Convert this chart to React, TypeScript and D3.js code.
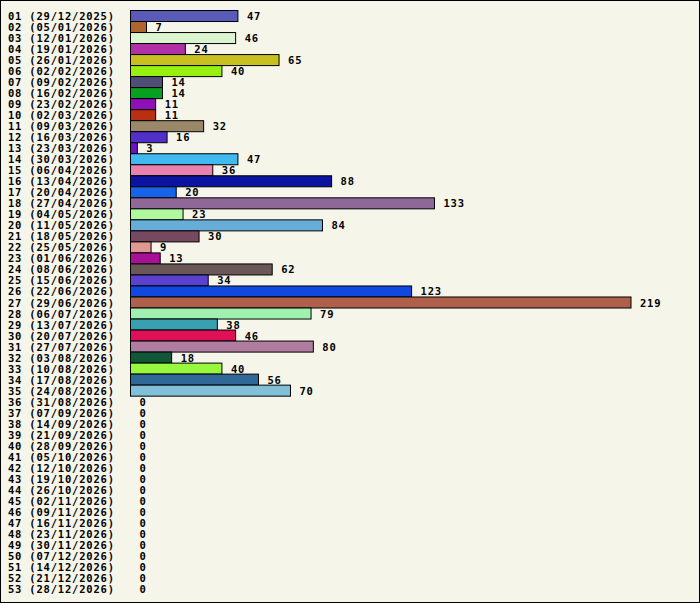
import React from 'react';
import * as d3 from 'd3';

const weeks = ["29/12/2025","05/01/2026","12/01/2026","19/01/2026","26/01/2026","02/02/2026","09/02/2026","16/02/2026","23/02/2026","02/03/2026","09/03/2026","16/03/2026","23/03/2026","30/03/2026","06/04/2026","13/04/2026","20/04/2026","27/04/2026","04/05/2026","11/05/2026","18/05/2026","25/05/2026","01/06/2026","08/06/2026","15/06/2026","22/06/2026","29/06/2026","06/07/2026","13/07/2026","20/07/2026","27/07/2026","03/08/2026","10/08/2026","17/08/2026","24/08/2026","31/08/2026","07/09/2026","14/09/2026","21/09/2026","28/09/2026","05/10/2026","12/10/2026","19/10/2026","26/10/2026","02/11/2026","09/11/2026","16/11/2026","23/11/2026","30/11/2026","07/12/2026","14/12/2026","21/12/2026","28/12/2026"];

const values = [47,7,46,24,65,40,14,14,11,11,32,16,3,47,36,88,20,133,23,84,30,9,13,62,34,123,219,79,38,46,80,18,40,56,70,0,0,0,0,0,0,0,0,0,0,0,0,0,0,0,0,0,0];

const colors = ["#5a5ab8","#b0642e","#dcf5d0","#b030a8","#c8c020","#98f010","#504e78","#08a020","#9010b8","#b83010","#9a8868","#5030c8","#7010c0","#40b8f0","#e880b0","#0a14a0","#1864e8","#906898","#b0f8a0","#68acd8","#784860","#e09890","#a81098","#6a5858","#5c40d0","#1048e0","#ae604c","#a0f0b0","#38a0b0","#e01058","#b07ca0","#105838","#98f840","#306898","#80c0d8"];

const labels = weeks.map((w, i) => `${String(i + 1).padStart(2, "0")} (${w})`);

const App: React.FC = () => {
  const width = 700, height = 603;
  const x = d3.scaleLinear().domain([0, 219]).range([130.5, 631]);
  const y = d3.scaleBand().domain(labels).range([10.5, 594.5]).padding(0);
  const font = "'DejaVu Sans Mono', monospace";

  return (
    <svg width={width} height={height} style={{ position: 'absolute', left: 0, top: 0 }}>
      <rect x={0.5} y={0.5} width={width - 1} height={height - 1} fill="#f5f5ea" stroke="#000" />
      {labels.map((l, i) => {
        const yy = y(l)!;
        const bw = x(values[i]) - x(0);
        return (
          <g key={l}>
            <text x={8} y={yy + y.bandwidth() / 2 + 4} fontFamily={font} fontWeight="bold" fontSize={10.5} letterSpacing={0.8}>{l}</text>
            <rect x={x(0)} y={yy} width={bw} height={y.bandwidth()}
              fill={colors[i] ?? "none"} stroke="#000" strokeWidth={1} />
            <text x={x(values[i]) + 9} y={yy + y.bandwidth() / 2 + 4} fontFamily={font} fontWeight="bold" fontSize={10.5} letterSpacing={0.8}>{values[i]}</text>
          </g>
        );
      })}
    </svg>
  );
};

export default App;
